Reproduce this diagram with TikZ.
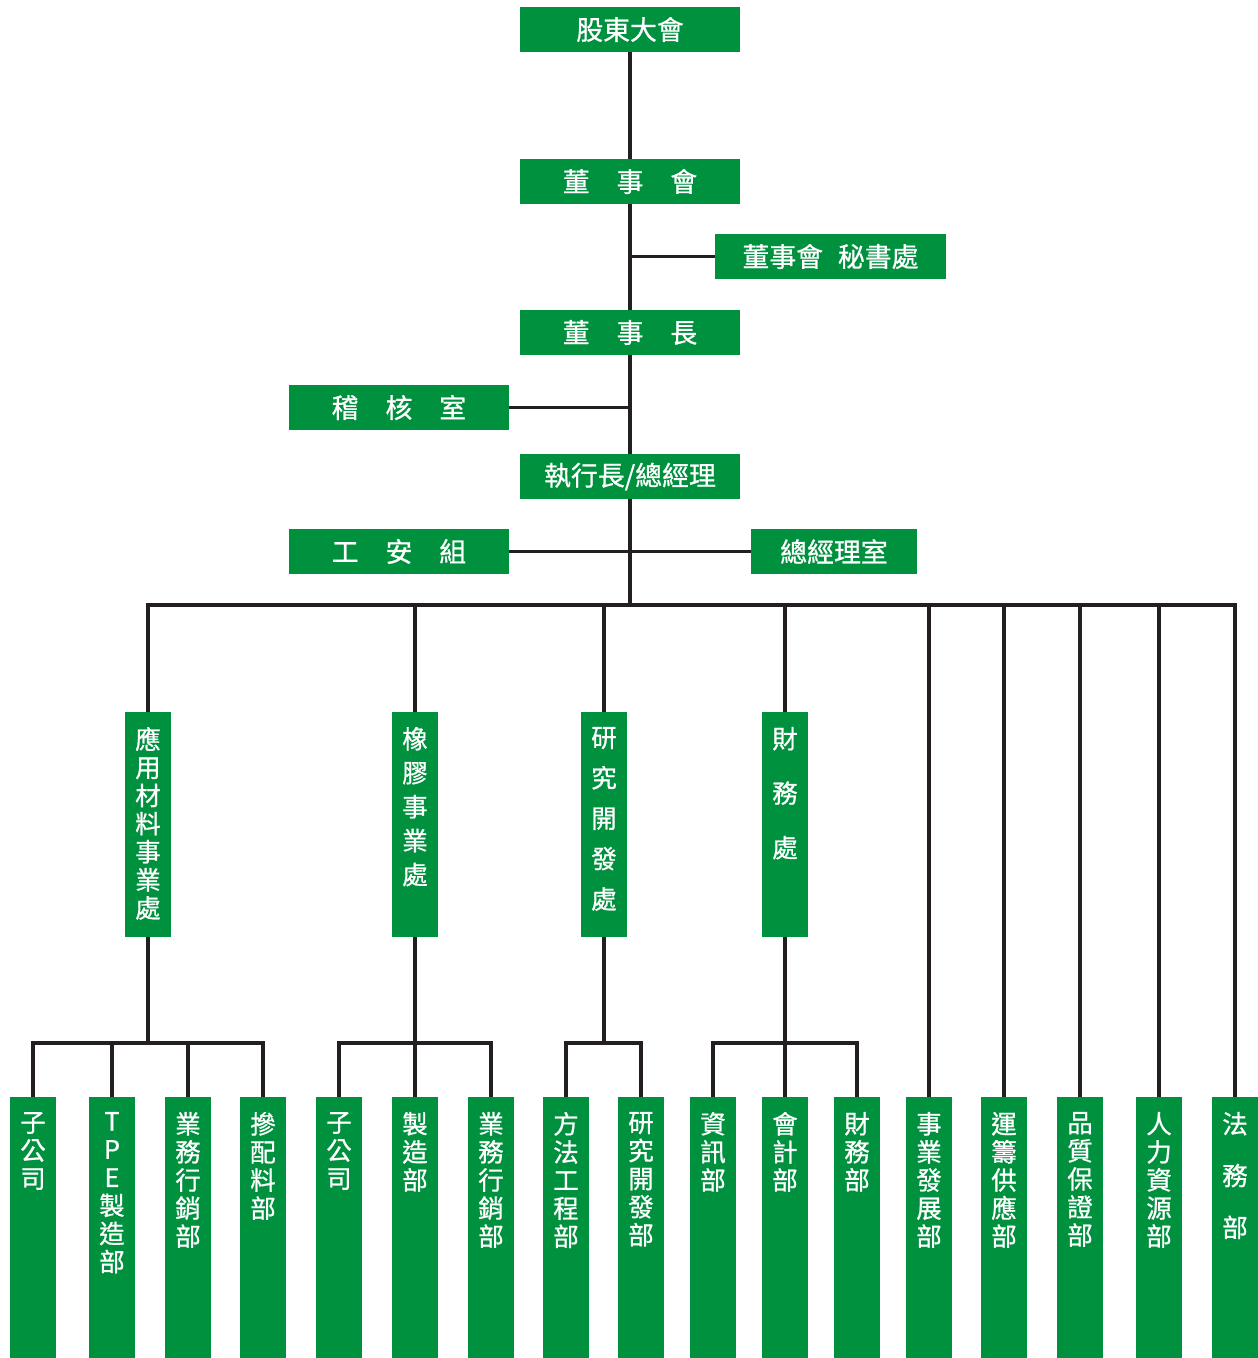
\documentclass[tikz,border=0pt]{standalone}
\usepackage{fontspec}
\usepackage{tikz}
\newfontfamily\cjk[FakeBold=0.8]{Noto Sans CJK TC}
\definecolor{orggreen}{RGB}{0,145,63}
\definecolor{linegrey}{RGB}{35,31,32}

\begin{document}
\begin{tikzpicture}[x=0.02cm,y=-0.02cm,
    hbox/.style={fill=orggreen,text=white,inner sep=0pt,minimum height=0.9cm,
      font=\cjk\fontsize{15.3pt}{18pt}\selectfont},
    vbox/.style={fill=orggreen,inner sep=0pt,minimum width=0.92cm},
    vlab/.style={text=white,align=center,inner sep=0pt,anchor=north,yshift=-0.3cm,
      font=\cjk\fontsize{14.5pt}{#1}\selectfont},
    vlab/.default=16pt,
    conn/.style={draw=linegrey,line width=1.8pt}]
  \useasboundingbox (0,0) rectangle (1257,1358);

  % top of the chart
  \node[hbox,minimum width=4.4cm] (agm) at (630,29.5) {股東大會};
  \node[hbox,minimum width=4.4cm] (board) at (630,181.5) {董　事　會};
  \node[hbox,minimum width=4.62cm] (sec) at (830.5,256.5) {董事會\hspace{0.55em}秘書處};
  \node[hbox,minimum width=4.4cm] (chair) at (630,332.5) {董　事　長};
  \node[hbox,minimum width=4.4cm] (audit) at (399,407.5) {稽　核　室};
  \node[hbox,minimum width=4.4cm] (ceo) at (630,476.5) {執行長/總經理};
  \node[hbox,minimum width=4.4cm] (safety) at (399,551.5) {工　安　組};
  \node[hbox,minimum width=3.32cm] (gmo) at (834,551.5) {總經理室};
  \coordinate (bus) at (630,605);

  % divisions
  \node[vbox,minimum height=4.5cm,label={[vlab]north:{應\\用\\材\\料\\事\\業\\處}}] (mat) at (148,824.5) {};
  \node[vbox,minimum height=4.5cm,label={[vlab=19.3pt]north:{橡\\膠\\事\\業\\處}}] (rub) at (415,824.5) {};
  \node[vbox,minimum height=4.5cm,label={[vlab=23pt]north:{研\\究\\開\\發\\處}}] (rd) at (604,824.5) {};
  \node[vbox,minimum height=4.5cm,label={[vlab=31pt]north:{財\\務\\處}}] (fin) at (785,824.5) {};

  % departments
  \foreach \nm/\x/\txt in {sub1/33/{子\\公\\司}, tpe/112/{T\\P\\E\\製\\造\\部},
      salesa/188/{業\\務\\行\\銷\\部}, blend/263/{摻\\配\\料\\部},
      subb/339/{子\\公\\司}, mfg/415/{製\\造\\部}, salesb/491/{業\\務\\行\\銷\\部},
      meth/566/{方\\法\\工\\程\\部}, rdd/641/{研\\究\\開\\發\\部},
      it/713/{資\\訊\\部}, acct/785/{會\\計\\部}, fdep/857/{財\\務\\部},
      bizdev/929/{事\\業\\發\\展\\部}, scm/1004/{運\\籌\\供\\應\\部},
      qa/1080/{品\\質\\保\\證\\部}, hr/1159/{人\\力\\資\\源\\部}}
    \node[vbox,minimum height=5.22cm,label={[vlab]north:{\txt}}] (\nm) at (\x,1227.5) {};
  \node[vbox,minimum height=5.22cm,label={[vlab=29.5pt]north:{法\\務\\部}}] (legal) at (1235,1227.5) {};

  % main line
  \draw[conn] (agm) -- (board);
  \draw[conn] (board) -- (chair);
  \draw[conn] (sec.west) -- (sec.west -| board);
  \draw[conn] (chair) -- (ceo);
  \draw[conn] (audit.east) -- (audit.east -| chair);
  \draw[conn] (safety) -- (gmo);
  \draw[conn] (ceo) -- (bus);

  % bus under the ceo
  \draw[conn] (mat.north) -- (mat.north |- bus) -- (legal.north |- bus) -- (legal.north);
  \foreach \nm in {rub,rd,fin,bizdev,scm,qa,hr}
    \draw[conn] (\nm.north |- bus) -- (\nm.north);

  % lines below the divisions
  \coordinate (sba) at (148,1043);
  \coordinate (sbb) at (415,1043);
  \coordinate (sbc) at (604,1043);
  \coordinate (sbd) at (785,1043);
  \draw[conn] (mat) -- (sba);
  \draw[conn] (rub) -- (sbb);
  \draw[conn] (rd) -- (sbc);
  \draw[conn] (fin) -- (sbd);
  \draw[conn] (sub1.north) -- (sub1.north |- sba) -- (blend.north |- sba) -- (blend.north);
  \draw[conn] (subb.north) -- (subb.north |- sbb) -- (salesb.north |- sbb) -- (salesb.north);
  \draw[conn] (meth.north) -- (meth.north |- sbc) -- (rdd.north |- sbc) -- (rdd.north);
  \draw[conn] (it.north) -- (it.north |- sbd) -- (fdep.north |- sbd) -- (fdep.north);
  \foreach \nm/\sb in {tpe/sba,salesa/sba,mfg/sbb,acct/sbd}
    \draw[conn] (\nm.north |- \sb) -- (\nm.north);
\end{tikzpicture}
\end{document}
